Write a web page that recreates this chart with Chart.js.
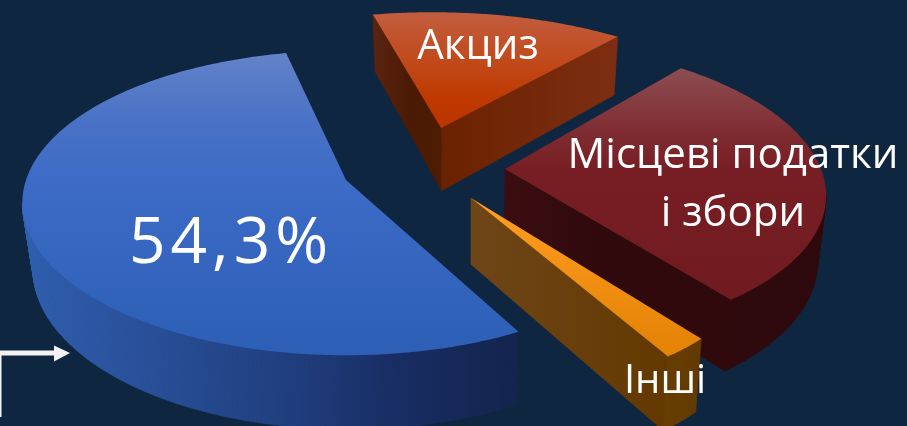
<!DOCTYPE html>
<html lang="uk">
<head>
<meta charset="utf-8">
<style>
html,body{margin:0;padding:0;background:#0f2640;width:907px;height:426px;overflow:hidden}
canvas{display:block}
</style>
<script src="https://cdn.jsdelivr.net/npm/chart.js@4"></script>
</head>
<body>
<canvas id="c" width="907" height="426"></canvas>
<script>
// data
const categories = ["Акциз", "Місцеві податки і збори", "Інші", "Основний"];
const shares = [14.6, 28.5, 2.6, 54.3];
const firstSliceAngle = -12.4;

// styles: one entry per slice, same order as the data
const baseColors = ["#bf3a00", "#771e24", "#f08c0c", "#3566bd"];
const topStops = [
  [[15,"#c25c3e"],[60,"#c14a1b"],[100,"#be3800"],[130,"#bd3500"]],
  [[68,"#8c4e52"],[130,"#7f2d32"],[170,"#771e24"],[299,"#701b20"]],
  [[198,"#ff9e22"],[341,"#e58406"]],
  [[53,"#6382c8"],[120,"#4a72c6"],[180,"#3d6bc6"],[350,"#2d5fb6"]]
];
const rimStops = [
  [[373,"#5a2408"],[617,"#7d2e12"]],
  [[505,"#300a0c"],[826,"#2f090c"]],
  [[660,"#693e02"],[700,"#643a00"]],
  [[22,"#3060b0"],[100,"#2c56a2"],[300,"#1f3d7c"],[400,"#182d62"],[518,"#13244d"]]
];
const cutStops = [
  [[373,"#5c2410"],[410,"#4a1a04"],[441,"#4e1c02"],[442,"#6b2200"],[617,"#7d2e12"]],
  [[505,"#3b0d11"],[600,"#2f090c"],[733,"#2f090c"]],
  [[469,"#6e4618"],[667,"#633900"]],
  [[0,"#13244d"],[907,"#13244d"]]
];
// layout of each exploded slice: tip position, radii, perspective shear
const tipX = [441, 505, 471, 346];
const tipY = [128, 169, 198, 180];
const radiusX = [315, 316, 267, 320];
const radiusY = [132, 146, 157, 149];
const shear = [10, 12, 54, 0];
const perspective = [0.14, 0.14, 0.14, 0.15];
const drawOrder = [0, 1, 3, 2];

function project(i, angle) {
  const u = Math.cos(angle), v = Math.sin(angle);
  const w = 1 / (1 - perspective[i] * v);
  return [tipX[i] + (radiusX[i] * u + shear[i] * v) * w, tipY[i] + radiusY[i] * v * w];
}
function lower(p) {
  return [p[0] + (470 - p[0]) * 0.024, p[1] + 57 + (p[1] - 15) * 0.05];
}
function gradient(ctx, stops, horizontal) {
  const a = stops[0][0], b = stops[stops.length - 1][0];
  const g = horizontal ? ctx.createLinearGradient(a, 0, b, 0) : ctx.createLinearGradient(0, a, 0, b);
  stops.forEach(s => g.addColorStop((s[0] - a) / (b - a), s[1]));
  return g;
}
function quad(ctx, a, b, fill) {
  const c = lower(b), d = lower(a);
  ctx.beginPath();
  ctx.moveTo(a[0], a[1]); ctx.lineTo(b[0], b[1]); ctx.lineTo(c[0], c[1]); ctx.lineTo(d[0], d[1]);
  ctx.closePath();
  ctx.fillStyle = fill; ctx.strokeStyle = fill; ctx.lineWidth = 0.7;
  ctx.fill(); ctx.stroke();
}

const solidPie = {
  id: "solidPie",
  beforeDatasetDraw() { return false; },
  afterDatasetsDraw(chart) {
    const ctx = chart.ctx, arcs = chart.getDatasetMeta(0).data;
    ctx.save();
    drawOrder.forEach(i => {
      const { startAngle, endAngle } = arcs[i].getProps(["startAngle", "endAngle"], true);
      const tip = [tipX[i], tipY[i]], rim = [];
      const n = Math.max(4, Math.ceil((endAngle - startAngle) * 90));
      for (let k = 0; k <= n; k++) rim.push(project(i, startAngle + (endAngle - startAngle) * k / n));
      const rimFill = gradient(ctx, rimStops[i], true), cutFill = gradient(ctx, cutStops[i], true);
      const last = rim[rim.length - 1];
      if (rim[0][0] < tip[0]) quad(ctx, tip, rim[0], cutFill);
      if (tip[0] < last[0]) quad(ctx, last, tip, cutFill);
      for (let k = 0; k < n; k++) if (rim[k + 1][0] < rim[k][0]) quad(ctx, rim[k], rim[k + 1], rimFill);
      ctx.beginPath();
      ctx.moveTo(tip[0], tip[1]);
      rim.forEach(p => ctx.lineTo(p[0], p[1]));
      ctx.closePath();
      ctx.fillStyle = gradient(ctx, topStops[i], false);
      ctx.fill();
    });
    // arrow
    ctx.strokeStyle = ctx.fillStyle = "#f2f2f2";
    ctx.lineWidth = 5;
    ctx.beginPath(); ctx.moveTo(-1, 417); ctx.lineTo(-1, 353); ctx.lineTo(56, 353); ctx.stroke();
    ctx.beginPath(); ctx.moveTo(54, 345.5); ctx.lineTo(70, 353); ctx.lineTo(54, 361.5); ctx.closePath(); ctx.fill();
    // labels
    ctx.fillStyle = "#ffffff";
    ctx.textAlign = "center"; ctx.textBaseline = "alphabetic";
    ctx.font = '64px "Open Sans"';
    ctx.letterSpacing = "5px";
    ctx.fillText("54,3%", 231, 263);
    ctx.letterSpacing = "0px";
    ctx.font = '42px "Open Sans"';
    ctx.fillText("Акциз", 478, 59);
    ctx.fillText("Місцеві податки", 733, 168);
    ctx.fillText("і збори", 733, 226);
    ctx.font = '40px "Open Sans"';
    ctx.fillText("Інші", 665, 393);
    ctx.restore();
  }
};

new Chart(document.getElementById("c"), {
  type: "pie",
  data: { labels: categories, datasets: [{ data: shares, backgroundColor: baseColors, borderWidth: 0 }] },
  options: {
    responsive: false, animation: false, devicePixelRatio: 1, rotation: firstSliceAngle,
    layout: { padding: 0 },
    plugins: { legend: { display: false }, tooltip: { enabled: false } }
  },
  plugins: [solidPie]
});
</script>
</body>
</html>
